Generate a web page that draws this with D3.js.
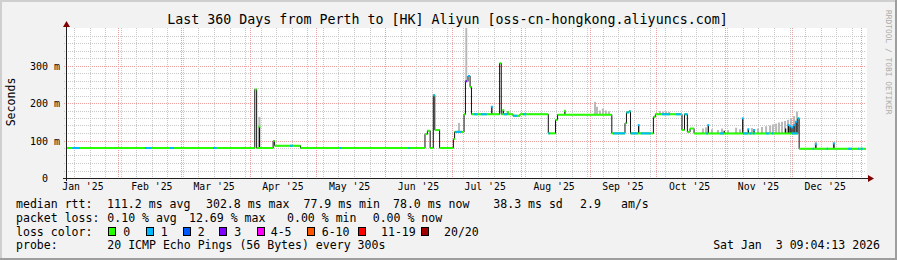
<!DOCTYPE html>
<html>
<head>
<meta charset="utf-8">
<script src="https://cdn.jsdelivr.net/npm/d3@7.9.0/dist/d3.min.js"></script>
<style>
  body { margin: 0; background: #f2f2f2; }
  svg text { font-family: "DejaVu Sans Mono", monospace; white-space: pre; fill: #000; }
</style>
</head>
<body>
<svg id="chart" width="897" height="260"></svg>
<script>
const parseTime = d3.utcParse('%Y-%m-%d %H:%M');

const startTime = '2025-01-08 09:04';
const endTime = '2026-01-03 09:04';

// median rtt (ms), step series: value holds from its time until the next one
const medianTimes = [
  '2025-01-08 09:04', '2025-04-03 08:00', '2025-04-04 04:00', '2025-04-11 14:00', '2025-04-12 06:00',
  '2025-04-23 22:00', '2025-06-18 22:00', '2025-06-20 00:00', '2025-06-21 06:00', '2025-06-22 16:00',
  '2025-06-23 08:00', '2025-06-25 12:00', '2025-07-01 17:00', '2025-07-02 06:00', '2025-07-06 12:00',
  '2025-07-07 03:00', '2025-07-08 07:00', '2025-07-09 05:00', '2025-07-09 20:00', '2025-07-22 12:00',
  '2025-07-23 06:00', '2025-07-28 12:00', '2025-07-31 16:00', '2025-08-13 10:00', '2025-08-16 16:00',
  '2025-08-17 14:00', '2025-09-11 00:00', '2025-09-16 22:00', '2025-09-17 14:00', '2025-09-18 17:00',
  '2025-09-19 10:00', '2025-09-29 17:00', '2025-09-30 14:00', '2025-10-12 14:00', '2025-10-13 17:00',
  '2025-10-15 00:00', '2025-10-16 05:00', '2025-10-18 00:00', '2025-12-03 17:00', '2025-12-04 07:00'
];
const medianValues = [
  80, 236, 80, 99, 86,
  80, 117, 126, 80, 221,
  128, 80, 104, 123, 170,
  258, 272, 243, 170, 306,
  170, 166, 170, 119, 155,
  169, 119, 146, 175, 178,
  119, 163, 170, 128, 170,
  123, 132, 119, 159, 78
];

// periods where the median line is coloured by packet loss (index into lossColors)
const lossStarts = [
  '2025-01-11 05:00', '2025-02-12 22:00', '2025-02-24 05:00', '2025-03-15 12:00', '2025-04-19 05:00',
  '2025-05-11 17:00', '2025-06-11 10:00', '2025-06-22 16:00', '2025-07-02 10:00', '2025-07-07 03:00',
  '2025-07-08 07:00', '2025-07-11 00:00', '2025-07-14 00:00', '2025-07-24 12:00', '2025-07-28 12:00',
  '2025-08-02 00:00', '2025-08-13 10:00', '2025-09-11 12:00', '2025-09-17 14:00', '2025-09-18 17:00',
  '2025-09-19 12:00', '2025-09-24 00:00', '2025-10-03 14:00', '2025-10-09 22:00', '2025-10-13 17:00',
  '2025-10-23 10:00', '2025-10-29 17:00', '2025-11-09 00:00', '2025-11-11 22:00', '2025-11-13 10:00',
  '2025-11-19 10:00', '2025-11-22 00:00', '2025-12-01 00:00', '2025-12-03 17:00', '2025-12-10 08:00',
  '2025-12-16 16:00', '2025-12-26 07:00', '2025-12-30 19:00', '2026-01-01 00:00'
];
const lossEnds = [
  '2025-01-14 16:00', '2025-02-15 22:00', '2025-02-26 00:00', '2025-03-17 05:00', '2025-04-20 10:00',
  '2025-05-12 06:00', '2025-06-12 05:00', '2025-06-23 08:00', '2025-07-05 12:00', '2025-07-07 20:00',
  '2025-07-09 05:00', '2025-07-12 12:00', '2025-07-16 18:00', '2025-07-26 00:00', '2025-07-30 12:00',
  '2025-08-03 12:00', '2025-08-14 06:00', '2025-09-16 22:00', '2025-09-18 17:00', '2025-09-19 10:00',
  '2025-09-22 17:00', '2025-09-28 12:00', '2025-10-07 05:00', '2025-10-12 02:00', '2025-10-15 00:00',
  '2025-10-24 07:00', '2025-10-31 12:00', '2025-11-11 10:00', '2025-11-12 22:00', '2025-11-14 07:00',
  '2025-11-20 17:00', '2025-11-22 12:00', '2025-12-03 17:00', '2025-12-04 07:00', '2025-12-10 20:00',
  '2025-12-17 04:00', '2025-12-28 02:00', '2025-12-31 07:00', '2026-01-02 00:00'
];
const lossLevels = [
  1, 1, 1, 1, 1, 1, 1, 1, 1, 3,
  1, 1, 1, 1, 1, 1, 1, 1, 1, 1,
  1, 1, 1, 1, 1, 1, 1, 1, 1, 1,
  1, 1, 1, 1, 1, 1, 1, 1, 1
];

// dense smoke (dark) spikes: time, top (ms), loss colour of the tip (-1 none)
const spikeTimes = [
  '2025-04-05 10:00', '2025-07-19 00:00', '2025-07-24 04:00', '2025-07-26 04:00', '2025-08-20 21:00',
  '2025-09-23 02:00', '2025-10-24 10:00', '2025-10-31 14:00', '2025-11-08 22:00', '2025-11-11 10:00',
  '2025-11-14 00:00', '2025-11-28 05:00', '2025-11-29 12:00', '2025-11-30 05:00', '2025-12-01 02:00',
  '2025-12-02 00:00', '2025-12-02 22:00', '2025-12-11 19:00', '2025-12-19 22:00'
];
const spikeTops = [137, 190, 181, 176, 179, 141, 141, 126, 159, 130, 128, 132, 141, 138, 135, 141, 150, 90, 92];
const spikeLoss = [0, 1, 0, 0, 0, 1, 1, -1, 1, 1, 1, -1, 1, 1, 1, 1, 1, 1, 1];

// light smoke: time, top (ms)
const smokeTimes = [
  '2025-04-05 10:00', '2025-07-04 05:00', '2025-07-07 12:00', '2025-09-03 10:00', '2025-09-04 08:00',
  '2025-09-05 16:00', '2025-09-07 00:00', '2025-09-08 08:00', '2025-09-09 16:00', '2025-10-02 17:00',
  '2025-10-04 02:00', '2025-10-05 10:00', '2025-10-06 19:00', '2025-10-22 00:00', '2025-10-23 09:00',
  '2025-10-26 02:00', '2025-10-28 19:00', '2025-10-30 14:00', '2025-11-02 07:00', '2025-11-05 22:00',
  '2025-11-07 17:00', '2025-11-13 02:00', '2025-11-15 19:00', '2025-11-17 14:00', '2025-11-19 10:00',
  '2025-11-21 05:00', '2025-11-22 12:00', '2025-11-23 22:00', '2025-11-25 05:00', '2025-11-26 14:00',
  '2025-11-27 22:00', '2025-11-29 07:00', '2025-11-30 14:00', '2025-12-02 00:00', '2025-12-03 07:00',
  '2025-12-11 19:00', '2025-12-19 22:00'
];
const smokeTops = [
  163, 147, 420, 203, 190, 180, 185, 180, 178, 179,
  177, 178, 176, 132, 135, 130, 128, 132, 128, 134,
  130, 133, 132, 136, 138, 140, 143, 145, 148, 150,
  152, 155, 160, 165, 177, 97, 95
];

const lossColors = ['#26ff00', '#00b8ff', '#0059ff', '#7e00ff', '#ff00ff', '#ff5500', '#ff0000', '#a10000'];
const lossLabels = ['0', '1', '2', '3', '4-5', '6-10', '11-19', '20/20'];

const title = 'Last 360 Days from Perth to [HK] Aliyun [oss-cn-hongkong.aliyuncs.com]';
const rttLegend = ['median rtt:', '111.2 ms avg', '302.8 ms max', '77.9 ms min', '78.0 ms now', '38.3 ms sd', '2.9', 'am/s'];
const lossLegend = ['packet loss:', '0.10 % avg', '12.69 % max', '0.00 % min', '0.00 % now'];
const probeLegend = ['probe:', '20 ICMP Echo Pings (56 Bytes) every 300s'];
const stamp = 'Sat Jan  3 09:04:13 2026';

// ---- layout
const svg = d3.select('#chart');
const W = 897, H = 260;
const plotLeft = 66, plotRight = 866, plotTop = 28, plotBottom = 178;

let x = d3.scaleUtc().domain([parseTime(startTime), parseTime(endTime)]).range([plotLeft, plotRight]);
let y = d3.scaleLinear().domain([0, 0.4]).range([plotBottom, plotTop]);

const crisp = v => Math.round(v) + 0.5;

// frame
svg.append('rect').attr('width', W).attr('height', H).attr('fill', '#f2f2f2');
svg.append('rect').attr('x', 0).attr('y', 0).attr('width', W).attr('height', 2).attr('fill', '#cfcfcf');
svg.append('rect').attr('x', 0).attr('y', 0).attr('width', 2).attr('height', H).attr('fill', '#cfcfcf');
svg.append('rect').attr('x', 0).attr('y', H - 2).attr('width', W).attr('height', 2).attr('fill', '#9e9e9e');
svg.append('rect').attr('x', W - 2).attr('y', 0).attr('width', 2).attr('height', H).attr('fill', '#9e9e9e');

// canvas
svg.append('rect').attr('x', plotLeft).attr('y', plotTop).attr('width', plotRight - plotLeft + 1).attr('height', plotBottom - plotTop + 1).attr('fill', '#fff');

svg.append('clipPath').attr('id', 'plotclip')
  .append('rect').attr('x', plotLeft).attr('y', plotTop).attr('width', plotRight - plotLeft + 1).attr('height', plotBottom - plotTop + 1);

// grid
let grid = svg.append('g');
let weeks = d3.utcSunday.range(x.domain()[0], x.domain()[1]);
let months = d3.utcMonth.range(x.domain()[0], x.domain()[1]);

y.ticks(20).filter(v => v > 0 && v < 0.399).forEach(v => {
  let major = Math.abs(v * 10 - Math.round(v * 10)) < 1e-6;
  grid.append('line')
    .attr('x1', plotLeft - 2).attr('x2', plotRight)
    .attr('y1', crisp(y(v))).attr('y2', crisp(y(v)))
    .attr('stroke', major ? '#eb9f9f' : '#c8c8c8')
    .attr('stroke-dasharray', '1,1');
});
weeks.forEach(d => {
  grid.append('line')
    .attr('x1', crisp(x(d))).attr('x2', crisp(x(d)))
    .attr('y1', plotTop).attr('y2', plotBottom + 2)
    .attr('stroke', '#c8c8c8')
    .attr('stroke-dasharray', '1,1');
});
months.forEach(d => {
  grid.append('line')
    .attr('x1', crisp(x(d))).attr('x2', crisp(x(d)))
    .attr('y1', plotTop).attr('y2', plotBottom + 2)
    .attr('stroke', '#eb9f9f')
    .attr('stroke-dasharray', '1,1');
});

// data
let medianData = medianTimes.map((t, i) => ({ t: parseTime(t), v: medianValues[i] }));
function medianAt(t) {
  let v = medianData[0].v;
  medianData.forEach(d => { if (d.t <= t) v = d.v; });
  return v;
}
let ms = v => y(v / 1000);

let plot = svg.append('g').attr('clip-path', 'url(#plotclip)');

// light smoke
smokeTimes.forEach((t, i) => {
  let d = parseTime(t);
  plot.append('line')
    .attr('x1', x(d)).attr('x2', x(d))
    .attr('y1', ms(medianAt(d))).attr('y2', ms(smokeTops[i]))
    .attr('stroke', '#b9b9b9').attr('stroke-width', 2);
});

// dark smoke
spikeTimes.forEach((t, i) => {
  let d = parseTime(t);
  plot.append('line')
    .attr('x1', x(d)).attr('x2', x(d))
    .attr('y1', ms(medianAt(d))).attr('y2', ms(spikeTops[i]))
    .attr('stroke', '#111').attr('stroke-width', 1.3);
});

// median step line
let stepData = medianData.concat([{ t: parseTime(endTime), v: medianValues[medianValues.length - 1] }]);
let stepLine = d3.line().x(d => x(d.t)).y(d => ms(d.v)).curve(d3.curveStepAfter);
plot.append('path')
  .attr('d', stepLine(stepData))
  .attr('fill', 'none').attr('stroke', '#111').attr('stroke-width', 1);

// coloured median, no loss
medianData.forEach((d, i) => {
  let next = stepData[i + 1].t;
  plot.append('line')
    .attr('x1', x(d.t)).attr('x2', Math.max(x(next), x(d.t) + 1.5))
    .attr('y1', ms(d.v)).attr('y2', ms(d.v))
    .attr('stroke', lossColors[0]).attr('stroke-width', 2);
});

// coloured median, loss periods
lossStarts.forEach((t, i) => {
  let a = parseTime(t), b = parseTime(lossEnds[i]);
  let v = medianAt(a);
  plot.append('line')
    .attr('x1', x(a)).attr('x2', Math.max(x(b), x(a) + 1.5))
    .attr('y1', ms(v)).attr('y2', ms(v))
    .attr('stroke', lossColors[lossLevels[i]]).attr('stroke-width', 2);
});

// tips of dark spikes
spikeTimes.forEach((t, i) => {
  if (spikeLoss[i] < 0) return;
  let d = parseTime(t);
  plot.append('rect')
    .attr('x', x(d) - 1).attr('y', ms(spikeTops[i]) - 1)
    .attr('width', 2).attr('height', 2)
    .attr('fill', lossColors[spikeLoss[i]]);
});

// axes
svg.append('line').attr('x1', plotLeft - 3).attr('x2', plotRight + 4)
  .attr('y1', plotBottom + 0.5).attr('y2', plotBottom + 0.5).attr('stroke', '#202020');
svg.append('line').attr('x1', plotLeft + 0.5).attr('x2', plotLeft + 0.5)
  .attr('y1', plotBottom + 3).attr('y2', plotTop - 3).attr('stroke', '#202020');
svg.append('path').attr('d', `M${plotLeft + 0.5},${plotTop - 7} L${plotLeft - 3},${plotTop - 1} L${plotLeft + 4},${plotTop - 1} Z`).attr('fill', '#800000');
svg.append('path').attr('d', `M${plotRight + 8},${plotBottom + 0.5} L${plotRight + 2},${plotBottom - 3} L${plotRight + 2},${plotBottom + 4} Z`).attr('fill', '#800000');

// y labels
y.ticks(4).filter(v => v < 0.399).forEach(v => {
  let label = v === 0 ? '  0  ' : `${Math.round(v * 1000)} m`;
  svg.append('text')
    .attr('x', 30).attr('y', y(v) + 0.5)
    .attr('dy', '0.36em')
    .attr('font-size', 10)
    .text(label);
});

// x labels, centred half a month after the month start
d3.utcMonth.range(d3.utcMonth.floor(x.domain()[0]), x.domain()[1]).forEach(d => {
  let c = d3.utcDay.offset(d, 15);
  if (c < x.domain()[0] || c > x.domain()[1]) return;
  svg.append('text')
    .attr('x', x(c)).attr('y', 190)
    .attr('text-anchor', 'middle')
    .attr('font-size', 9.8)
    .text(d3.utcFormat("%b '%y")(d));
});

// title and axis name
svg.append('text').attr('x', 447.5).attr('y', 23.5).attr('text-anchor', 'middle').attr('font-size', 13.3).text(title);
svg.append('text').attr('transform', 'translate(15,102) rotate(-90)').attr('text-anchor', 'middle').attr('font-size', 11.55).text('Seconds');
svg.append('text').attr('transform', 'translate(886,10) rotate(90)').attr('font-size', 7.9).style('fill', '#ababab').text('RRDTOOL / TOBI OETIKER');

// legend
const rowY = [208.3, 222, 235.7, 249.3];
const rttX = [16, 107, 206, 303.5, 393, 493.3, 580, 621];
const lossX = [16, 107.3, 189, 287, 372.7];
const swatchX = [108.3, 145.7, 182.7, 219.3, 256.7, 307.3, 357.7, 420.7];
const swatchLabelX = [123.3, 160.7, 197.7, 234.3, 270.7, 321.7, 381, 444];

let legend = svg.append('g').attr('font-size', 11.55);
rttLegend.forEach((s, i) => legend.append('text').attr('x', rttX[i]).attr('y', rowY[0]).text(s));
lossLegend.forEach((s, i) => legend.append('text').attr('x', lossX[i]).attr('y', rowY[1]).text(s));
legend.append('text').attr('x', 16).attr('y', rowY[2]).text('loss color:');
lossLabels.forEach((s, i) => {
  legend.append('rect')
    .attr('x', Math.round(swatchX[i]) + 0.5).attr('y', 227.5)
    .attr('width', 7).attr('height', 8)
    .attr('fill', lossColors[i]).attr('stroke', '#000');
  legend.append('text').attr('x', swatchLabelX[i]).attr('y', rowY[2]).text(s);
});
legend.append('text').attr('x', 16).attr('y', rowY[3]).text(probeLegend[0]);
legend.append('text').attr('x', 107.3).attr('y', rowY[3]).text(probeLegend[1]);
legend.append('text').attr('x', 880).attr('y', rowY[3]).attr('text-anchor', 'end').text(stamp);
</script>
</body>
</html>
